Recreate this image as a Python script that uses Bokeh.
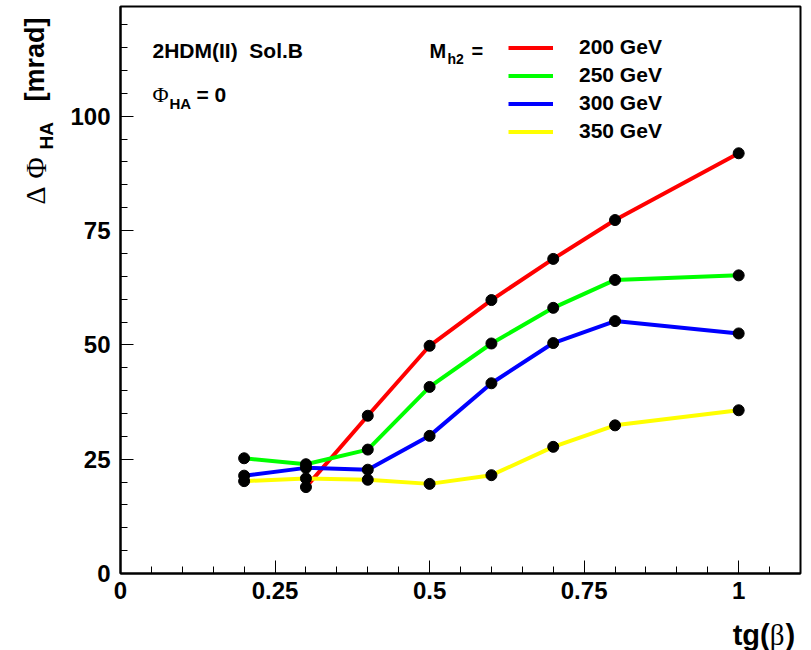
from bokeh.plotting import figure
from bokeh.models import Label, Legend, LegendItem, FixedTicker, Range1d
from bokeh.layouts import row, column
from bokeh.embed import file_html
from bokeh.resources import INLINE
import math

# ---- data ----
x_200 = [0.3, 0.4, 0.5, 0.6, 0.7, 0.8, 1.0]
y_200 = [18.9, 34.5, 49.8, 59.8, 68.8, 77.3, 91.9]
x_other = [0.2, 0.3, 0.4, 0.5, 0.6, 0.7, 0.8, 1.0]
y_250 = [25.2, 23.9, 27.1, 40.8, 50.3, 58.1, 64.2, 65.2]
y_300 = [21.4, 23.1, 22.7, 30.1, 41.6, 50.4, 55.2, 52.5]
y_350 = [20.2, 20.8, 20.5, 19.6, 21.5, 27.7, 32.4, 35.7]
series_labels = ["200 GeV", "250 GeV", "300 GeV", "350 GeV"]
series_colors = ["#ff0000", "#00ff00", "#0000ff", "#ffff00"]
x_major = [0, 0.25, 0.5, 0.75, 1.0]
x_major_labels = ["0", "0.25", "0.5", "0.75", "1"]
y_major = [0, 25, 50, 75, 100]

W, H = 811, 650
YLAB_W = 60          # strip holding the y-axis title
XLAB_H = 38          # strip holding the x-axis title
FL, FR, FT, FB = 120, 800, 6, 573   # plot frame in page pixels
XMAX, YMAX = 1.1, 124.0
BASE_K = 0.31        # baseline correction (fraction of font size)

SANS = "Liberation Sans"
SERIF = "Liberation Serif"

main_w = W - YLAB_W
main_h = H - XLAB_H
p = figure(width=main_w, height=main_h, x_range=(0, XMAX), y_range=(0, YMAX),
           output_backend="svg", toolbar_location=None,
           min_border_left=FL - YLAB_W, min_border_right=W - FR,
           min_border_top=FT, min_border_bottom=main_h - FB)
p.background_fill_color = "white"
p.border_fill_color = "white"
p.outline_line_color = "black"
p.outline_line_width = 2
p.xgrid.visible = False
p.ygrid.visible = False

for ax in (p.xaxis[0], p.yaxis[0]):
    ax.axis_line_width = 2
    ax.axis_line_color = "black"
    ax.major_tick_in = 13
    ax.major_tick_out = 0
    ax.minor_tick_in = 7
    ax.minor_tick_out = 0
    ax.major_tick_line_width = 1
    ax.minor_tick_line_width = 1
    ax.major_label_text_font = SANS
    ax.major_label_text_font_style = "bold"
    ax.major_label_text_font_size = "24px"
    ax.major_label_text_color = "black"

p.xaxis[0].ticker = FixedTicker(ticks=x_major,
                                minor_ticks=[round(i * 0.05, 2) for i in range(0, 23)])
p.xaxis[0].major_label_overrides = {t: s for t, s in zip(x_major, x_major_labels)}
p.xaxis[0].major_label_standoff = 8
p.yaxis[0].ticker = FixedTicker(ticks=y_major, minor_ticks=list(range(0, 125, 5)))
p.yaxis[0].major_label_standoff = 10

# ---- series ----
xs = [x_200, x_other, x_other, x_other]
ys = [y_200, y_250, y_300, y_350]
line_renderers = []
for x, y, c in zip(xs, ys, series_colors):
    r = p.line(x, y, line_color=c, line_width=4)
    line_renderers.append(r)
for x, y in zip(xs, ys):
    p.scatter(x, y, size=11, fill_color="black", line_color="black")

# ---- legend ----
items = [LegendItem(label=l, renderers=[r]) for l, r in zip(series_labels, line_renderers)]
leg_bottom = 143
legend = Legend(items=items, location=(508 - FL, FB - leg_bottom),
                glyph_width=45, glyph_height=23, label_height=23, spacing=4,
                label_standoff=26, padding=0, margin=0,
                border_line_color=None, background_fill_alpha=0,
                label_text_font=SANS, label_text_font_style="bold",
                label_text_font_size="21px", label_text_color="black")
p.add_layout(legend, "center")


def dx(px):
    return (px - FL) / (FR - FL) * XMAX


def dy(py):
    return (FB - py) / (FB - FT) * YMAX


def add_txt(fig, s, x, y, size, font=SANS, style="bold", align="left", angle=0.0):
    fig.add_layout(Label(x=x, y=y, text=s, text_font=font,
                         text_font_style=style, text_font_size=f"{size}px",
                         text_align=align, text_baseline="alphabetic",
                         text_color="black", angle=angle))


def ptxt(s, px, py, size, **kw):
    # px, py: wanted baseline position in page pixels
    add_txt(p, s, dx(px), dy(py - BASE_K * size), size, **kw)


# header texts inside the frame
ptxt("2HDM(II)\u00a0 Sol.B", 152, 57, 21)
ptxt("\u03a6", 152, 101, 22, font=SERIF, style="normal")
ptxt("HA", 169, 108, 15)
ptxt("= 0", 196, 101, 21)
ptxt("M", 429, 57, 20)
ptxt("h2", 447, 63, 14)
ptxt("=", 471, 57, 20)


def strip(w, h):
    f = figure(width=w, height=h, x_range=Range1d(0, w), y_range=Range1d(h, 0),
               output_backend="svg", toolbar_location=None,
               min_border=0, min_border_left=0, min_border_right=0,
               min_border_top=0, min_border_bottom=0)
    f.xaxis.visible = False
    f.yaxis.visible = False
    f.grid.visible = False
    f.outline_line_color = None
    f.background_fill_color = "white"
    f.border_fill_color = "white"
    return f


# y-axis title strip (page x 0..60, y 0..650); text reads upward
ylab = strip(YLAB_W, H)
A = math.pi / 2


def ytxt(s, bx, sy, size, **kw):
    add_txt(ylab, s, bx - BASE_K * size, sy, size, angle=A, **kw)


ytxt("\u0394", 44, 204, 28, font=SERIF, style="normal")
ytxt("\u03a6", 44, 178, 29, font=SERIF, style="normal")
ytxt("HA", 52, 149, 19)
ytxt("[mrad]", 43, 101, 27)

# x-axis title strip (page x 60..811, y 612..650)
xlab = strip(main_w, XLAB_H)
ox, oy = YLAB_W, main_h


def xtxt(s, px, py, size, **kw):
    add_txt(xlab, s, px - ox, py - oy - BASE_K * size, size, **kw)


xtxt("tg(", 777, 643, 29, align="right")
xtxt("\u03b2", 777, 643, 29, font=SERIF, style="normal")
xtxt(")", 805, 643, 29, align="right")

layout = row(ylab, column(p, xlab, spacing=0), spacing=0)
open("out.html", "w").write(file_html(layout, INLINE))
